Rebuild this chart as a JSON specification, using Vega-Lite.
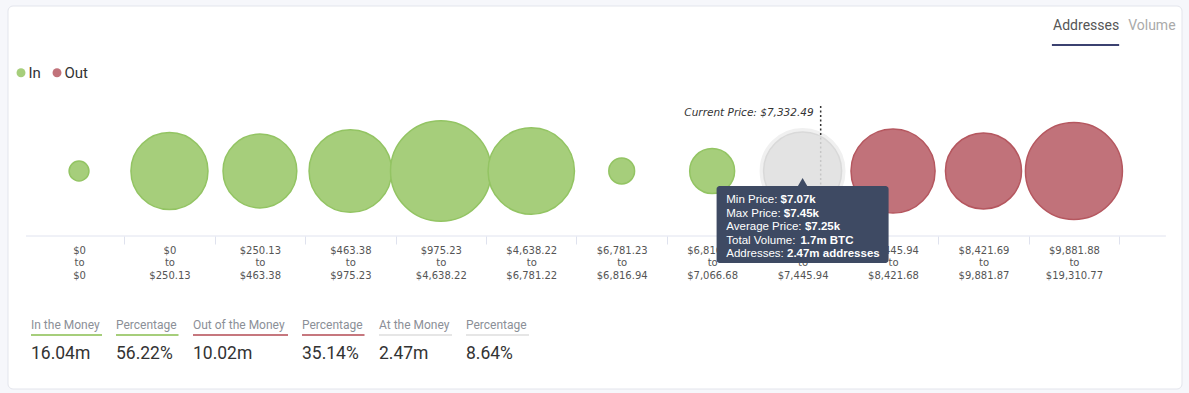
{
  "$schema": "https://vega.github.io/schema/vega-lite/v6.json",
  "background": "#f6f7fb",
  "padding": {"left": 7, "top": 5, "right": 8, "bottom": 5},
  "config": {"view": {"stroke": null}},
  "datasets": {
    "bins": [
      {"range": "$0 to $0", "status": "In", "addresses": 0.16},
      {"range": "$0 to $250.13", "status": "In", "addresses": 2.41},
      {"range": "$250.13 to $463.38", "status": "In", "addresses": 2.21},
      {"range": "$463.38 to $975.23", "status": "In", "addresses": 2.77},
      {"range": "$975.23 to $4,638.22", "status": "In", "addresses": 4.11},
      {"range": "$4,638.22 to $6,781.22", "status": "In", "addresses": 3.03},
      {"range": "$6,781.23 to $6,816.94", "status": "In", "addresses": 0.27},
      {"range": "$6,816.95 to $7,066.68", "status": "In", "addresses": 0.82},
      {"range": "$7,066.69 to $7,445.94", "status": "At", "addresses": 2.47},
      {"range": "$7,445.94 to $8,421.68", "status": "Out", "addresses": 2.87},
      {"range": "$8,421.69 to $9,881.87", "status": "Out", "addresses": 2.35},
      {"range": "$9,881.88 to $19,310.77", "status": "Out", "addresses": 3.82}
    ],
    "current": [{"range": "$7,066.69 to $7,445.94", "label": "Current Price: $7,332.49"}],
    "tabs": [{"tab": "Addresses"}, {"tab": "Volume"}],
    "tip": [
      {"k": "Min Price:", "v": "$7.07k"},
      {"k": "Max Price:", "v": "$7.45k"},
      {"k": "Average Price:", "v": "$7.25k"},
      {"k": "Total Volume:", "v": "1.7m BTC"},
      {"k": "Addresses:", "v": "2.47m addresses"}
    ],
    "stats": [
      {"key": "inCount", "label": "In the Money", "value": "16.04m"},
      {"key": "inPct", "label": "Percentage", "value": "56.22%"},
      {"key": "outCount", "label": "Out of the Money", "value": "10.02m"},
      {"key": "outPct", "label": "Percentage", "value": "35.14%"},
      {"key": "atCount", "label": "At the Money", "value": "2.47m"},
      {"key": "atPct", "label": "Percentage", "value": "8.64%"}
    ]
  },
  "bounds": "flush",
  "spacing": 0,
  "vconcat": [
    {
      "width": 1174,
      "height": 1,
      "data": {"values": [{"panel": "card"}]},
      "mark": {"type": "rect", "fill": "#ffffff", "stroke": "#e3e5ec", "strokeWidth": 1, "cornerRadius": 5},
      "encoding": {
        "y": {"datum": 1, "type": "quantitative", "scale": {"domain": [0, 1], "nice": false, "zero": false}, "axis": null},
        "y2": {"datum": -382}
      }
    },
    {
      "width": 1174,
      "height": 310,
      "layer": [
        {
          "data": {"name": "bins"},
          "transform": [{"filter": "datum.status === 'At'"}],
          "mark": {"type": "point", "filled": true, "shape": "circle", "color": "#f0f0f0", "stroke": "#f0f0f0", "strokeWidth": 8, "opacity": 1},
          "encoding": {
            "x": {"field": "range", "type": "nominal", "sort": null,
              "scale": {"domain": ["$0 to $0", "$0 to $250.13", "$250.13 to $463.38", "$463.38 to $975.23", "$975.23 to $4,638.22", "$4,638.22 to $6,781.22", "$6,781.23 to $6,816.94", "$6,816.95 to $7,066.68", "$7,066.69 to $7,445.94", "$7,445.94 to $8,421.68", "$8,421.69 to $9,881.87", "$9,881.88 to $19,310.77"], "paddingInner": 0, "paddingOuter": 0.49, "align": 0.291},
              "axis": {"title": null, "orient": "bottom", "offset": -81, "domain": false, "ticks": true, "tickSize": 8, "tickColor": "#dfe2ee", "tickWidth": 1, "tickOffset": 45.2, "labelOffset": -45.2, "labelAngle": 0, "labelOverlap": false, "labelBound": false, "labelFlush": false, "labelPadding": 1, "labelFont": "DejaVu Sans", "labelFontSize": 10, "labelColor": "#555555", "labelLineHeight": 12.5, "labelBaseline": "top", "labelExpr": "split(datum.label, ' ')", "grid": false}},
            "y": {"datum": 65, "type": "quantitative", "scale": {"domain": [-81, 229], "nice": false, "zero": false}, "axis": null},
            "size": {"field": "addresses", "type": "quantitative", "scale": {"domain": [0, 5], "range": [0, 12316]}, "legend": null}
          }
        },
        {
          "data": {"name": "current"},
          "mark": {"type": "rule", "color": "#333333", "strokeWidth": 1.5, "strokeDash": [2, 2.5]},
          "encoding": {
            "x": {"field": "range", "type": "nominal", "bandPosition": 0.7},
            "y": {"datum": 130, "type": "quantitative", "axis": null},
            "y2": {"datum": 0}
          }
        },
        {
          "data": {"values": [{"from": "$0 to $0", "to": "$9,881.88 to $19,310.77"}]},
          "mark": {"type": "rule", "color": "#e0e3ef", "strokeWidth": 1},
          "encoding": {
            "x": {"field": "from", "type": "nominal", "bandPosition": -0.086},
            "x2": {"field": "to", "bandPosition": 1.517},
            "y": {"datum": 0, "type": "quantitative", "axis": null}
          }
        },
        {
          "data": {"name": "bins"},
          "mark": {"type": "point", "filled": true, "shape": "circle", "strokeWidth": 1.5, "opacity": 1},
          "encoding": {
            "x": {"field": "range", "type": "nominal", "sort": null},
            "y": {"datum": 65, "type": "quantitative", "axis": null},
            "size": {"field": "addresses", "type": "quantitative", "legend": null},
            "color": {"field": "status", "type": "nominal",
              "scale": {"domain": ["In", "Out", "At"], "range": ["#a6ce7b", "#c1727a", "#e1e1e1"]},
              "legend": {"values": ["In", "Out"], "orient": "none", "legendX": 5.5, "legendY": 59, "direction": "horizontal", "title": null, "symbolType": "circle", "symbolSize": 80, "symbolStrokeWidth": 0, "symbolOpacity": 1, "labelFont": "Roboto", "labelFontSize": 15, "labelColor": "#333333", "labelOffset": 0, "columnPadding": 8, "padding": 0}},
            "stroke": {"field": "status", "type": "nominal",
              "scale": {"domain": ["In", "Out", "At"], "range": ["#93c463", "#b5575f", "#d9d9d9"]}, "legend": null},
            "fillOpacity": {"condition": {"test": "datum.status === 'At'", "value": 0.85}, "value": 1}
          }
        },
        {
          "data": {"name": "current"},
          "mark": {"type": "text", "align": "right", "baseline": "middle", "dx": -7, "font": "DejaVu Sans", "fontSize": 10.5, "fontStyle": "italic", "color": "#333333"},
          "encoding": {
            "x": {"field": "range", "type": "nominal", "bandPosition": 0.7},
            "y": {"datum": 123, "type": "quantitative", "axis": null},
            "text": {"field": "label"}
          }
        },
        {
          "data": {"name": "tabs"},
          "transform": [{"filter": "datum.tab === 'Addresses'"}],
          "layer": [
            {
              "mark": {"type": "text", "align": "right", "baseline": "middle", "font": "Roboto", "fontSize": 14, "color": "#555555"},
              "encoding": {
                "x": {"datum": "$9,881.88 to $19,310.77", "type": "nominal", "bandPosition": 1},
                "y": {"datum": 210, "type": "quantitative", "axis": null},
                "text": {"field": "tab"}
              }
            },
            {
              "mark": {"type": "rule", "color": "#3b4170", "strokeWidth": 2},
              "encoding": {
                "x": {"datum": "$9,881.88 to $19,310.77", "type": "nominal", "bandPosition": 0.2565},
                "x2": {"datum": "$9,881.88 to $19,310.77", "bandPosition": 1},
                "y": {"datum": 191, "type": "quantitative", "axis": null}
              }
            }
          ]
        },
        {
          "data": {"name": "tabs"},
          "transform": [{"filter": "datum.tab === 'Volume'"}],
          "mark": {"type": "text", "align": "left", "baseline": "middle", "dx": 9, "font": "Roboto", "fontSize": 14, "color": "#aaaaaa"},
          "encoding": {
            "x": {"datum": "$9,881.88 to $19,310.77", "type": "nominal", "bandPosition": 1},
            "y": {"datum": 210, "type": "quantitative", "axis": null},
            "text": {"field": "tab"}
          }
        },
        {
          "data": {"name": "bins"},
          "transform": [{"filter": "datum.status === 'At'"}],
          "layer": [
            {
              "mark": {"type": "bar", "width": 172, "color": "#3e4a63", "cornerRadius": 3},
              "encoding": {
                "x": {"field": "range", "type": "nominal"},
                "y": {"datum": 50, "type": "quantitative", "axis": null},
                "y2": {"datum": -27}
              }
            },
            {
              "mark": {"type": "point", "shape": "triangle-up", "filled": true, "size": 110, "color": "#3e4a63", "opacity": 1},
              "encoding": {
                "x": {"field": "range", "type": "nominal"},
                "y": {"datum": 53.5, "type": "quantitative", "axis": null}
              }
            }
          ]
        },
        {
          "data": {"name": "tip"},
          "transform": [{"filter": "datum.k === 'Min Price:'"}],
          "encoding": {
            "x": {"datum": "$7,066.69 to $7,445.94", "type": "nominal"},
            "y": {"datum": 36, "type": "quantitative", "axis": null}
          },
          "layer": [
            {"mark": {"type": "text", "align": "left", "baseline": "middle", "dx": -76.3, "font": "Liberation Sans", "fontSize": 11.5, "color": "#ffffff"}, "encoding": {"text": {"field": "k"}}},
            {"mark": {"type": "text", "align": "left", "baseline": "middle", "dx": -22, "font": "Liberation Sans", "fontSize": 11.5, "fontWeight": "bold", "color": "#ffffff"}, "encoding": {"text": {"field": "v"}}}
          ]
        },
        {
          "data": {"name": "tip"},
          "transform": [{"filter": "datum.k === 'Max Price:'"}],
          "encoding": {
            "x": {"datum": "$7,066.69 to $7,445.94", "type": "nominal"},
            "y": {"datum": 22.5, "type": "quantitative", "axis": null}
          },
          "layer": [
            {"mark": {"type": "text", "align": "left", "baseline": "middle", "dx": -76.3, "font": "Liberation Sans", "fontSize": 11.5, "color": "#ffffff"}, "encoding": {"text": {"field": "k"}}},
            {"mark": {"type": "text", "align": "left", "baseline": "middle", "dx": -18.8, "font": "Liberation Sans", "fontSize": 11.5, "fontWeight": "bold", "color": "#ffffff"}, "encoding": {"text": {"field": "v"}}}
          ]
        },
        {
          "data": {"name": "tip"},
          "transform": [{"filter": "datum.k === 'Average Price:'"}],
          "encoding": {
            "x": {"datum": "$7,066.69 to $7,445.94", "type": "nominal"},
            "y": {"datum": 9, "type": "quantitative", "axis": null}
          },
          "layer": [
            {"mark": {"type": "text", "align": "left", "baseline": "middle", "dx": -76.3, "font": "Liberation Sans", "fontSize": 11.5, "color": "#ffffff"}, "encoding": {"text": {"field": "k"}}},
            {"mark": {"type": "text", "align": "left", "baseline": "middle", "dx": 2.3, "font": "Liberation Sans", "fontSize": 11.5, "fontWeight": "bold", "color": "#ffffff"}, "encoding": {"text": {"field": "v"}}}
          ]
        },
        {
          "data": {"name": "tip"},
          "transform": [{"filter": "datum.k === 'Total Volume:'"}],
          "encoding": {
            "x": {"datum": "$7,066.69 to $7,445.94", "type": "nominal"},
            "y": {"datum": -4.5, "type": "quantitative", "axis": null}
          },
          "layer": [
            {"mark": {"type": "text", "align": "left", "baseline": "middle", "dx": -76.3, "font": "Liberation Sans", "fontSize": 11.5, "color": "#ffffff"}, "encoding": {"text": {"field": "k"}}},
            {"mark": {"type": "text", "align": "left", "baseline": "middle", "dx": -2.2, "font": "Liberation Sans", "fontSize": 11.5, "fontWeight": "bold", "color": "#ffffff"}, "encoding": {"text": {"field": "v"}}}
          ]
        },
        {
          "data": {"name": "tip"},
          "transform": [{"filter": "datum.k === 'Addresses:'"}],
          "encoding": {
            "x": {"datum": "$7,066.69 to $7,445.94", "type": "nominal"},
            "y": {"datum": -18, "type": "quantitative", "axis": null}
          },
          "layer": [
            {"mark": {"type": "text", "align": "left", "baseline": "middle", "dx": -76.3, "font": "Liberation Sans", "fontSize": 11.5, "color": "#ffffff"}, "encoding": {"text": {"field": "k"}}},
            {"mark": {"type": "text", "align": "left", "baseline": "middle", "dx": -15.6, "font": "Liberation Sans", "fontSize": 11.5, "fontWeight": "bold", "color": "#ffffff"}, "encoding": {"text": {"field": "v"}}}
          ]
        }
      ]
    },
    {
      "bounds": "flush",
      "spacing": 14,
      "hconcat": [
        {"width": 9, "height": 40, "data": {"values": []}, "mark": "point", "encoding": {}},
        {
          "width": 71, "height": 40, "data": {"name": "stats"},
          "transform": [{"filter": "datum.key === 'inCount'"}],
          "encoding": {"x": {"datum": 0, "type": "quantitative", "scale": {"domain": [0, 1], "nice": false}, "axis": null}},
          "layer": [
            {"mark": {"type": "text", "align": "left", "baseline": "middle", "font": "Roboto", "fontSize": 12, "color": "#8b8f97"}, "encoding": {"y": {"datum": 8, "type": "quantitative", "scale": {"domain": [40, 0], "nice": false}, "axis": null}, "text": {"field": "label"}}},
            {"mark": {"type": "rule", "color": "#a6ce7b", "strokeWidth": 2}, "encoding": {"x2": {"datum": 1}, "y": {"datum": 18, "type": "quantitative", "axis": null}}},
            {"mark": {"type": "text", "align": "left", "baseline": "middle", "font": "Roboto", "fontSize": 17.5, "color": "#333333"}, "encoding": {"y": {"datum": 37, "type": "quantitative", "axis": null}, "text": {"field": "value"}}}
          ]
        },
        {
          "width": 62.5, "height": 40, "data": {"name": "stats"},
          "transform": [{"filter": "datum.key === 'inPct'"}],
          "encoding": {"x": {"datum": 0, "type": "quantitative", "scale": {"domain": [0, 1], "nice": false}, "axis": null}},
          "layer": [
            {"mark": {"type": "text", "align": "left", "baseline": "middle", "font": "Roboto", "fontSize": 12, "color": "#8b8f97"}, "encoding": {"y": {"datum": 8, "type": "quantitative", "scale": {"domain": [40, 0], "nice": false}, "axis": null}, "text": {"field": "label"}}},
            {"mark": {"type": "rule", "color": "#a6ce7b", "strokeWidth": 2}, "encoding": {"x2": {"datum": 1}, "y": {"datum": 18, "type": "quantitative", "axis": null}}},
            {"mark": {"type": "text", "align": "left", "baseline": "middle", "font": "Roboto", "fontSize": 17.5, "color": "#333333"}, "encoding": {"y": {"datum": 37, "type": "quantitative", "axis": null}, "text": {"field": "value"}}}
          ]
        },
        {
          "width": 95, "height": 40, "data": {"name": "stats"},
          "transform": [{"filter": "datum.key === 'outCount'"}],
          "encoding": {"x": {"datum": 0, "type": "quantitative", "scale": {"domain": [0, 1], "nice": false}, "axis": null}},
          "layer": [
            {"mark": {"type": "text", "align": "left", "baseline": "middle", "font": "Roboto", "fontSize": 12, "color": "#8b8f97"}, "encoding": {"y": {"datum": 8, "type": "quantitative", "scale": {"domain": [40, 0], "nice": false}, "axis": null}, "text": {"field": "label"}}},
            {"mark": {"type": "rule", "color": "#c6777e", "strokeWidth": 2}, "encoding": {"x2": {"datum": 1}, "y": {"datum": 18, "type": "quantitative", "axis": null}}},
            {"mark": {"type": "text", "align": "left", "baseline": "middle", "font": "Roboto", "fontSize": 17.5, "color": "#333333"}, "encoding": {"y": {"datum": 37, "type": "quantitative", "axis": null}, "text": {"field": "value"}}}
          ]
        },
        {
          "width": 62.5, "height": 40, "data": {"name": "stats"},
          "transform": [{"filter": "datum.key === 'outPct'"}],
          "encoding": {"x": {"datum": 0, "type": "quantitative", "scale": {"domain": [0, 1], "nice": false}, "axis": null}},
          "layer": [
            {"mark": {"type": "text", "align": "left", "baseline": "middle", "font": "Roboto", "fontSize": 12, "color": "#8b8f97"}, "encoding": {"y": {"datum": 8, "type": "quantitative", "scale": {"domain": [40, 0], "nice": false}, "axis": null}, "text": {"field": "label"}}},
            {"mark": {"type": "rule", "color": "#c6777e", "strokeWidth": 2}, "encoding": {"x2": {"datum": 1}, "y": {"datum": 18, "type": "quantitative", "axis": null}}},
            {"mark": {"type": "text", "align": "left", "baseline": "middle", "font": "Roboto", "fontSize": 17.5, "color": "#333333"}, "encoding": {"y": {"datum": 37, "type": "quantitative", "axis": null}, "text": {"field": "value"}}}
          ]
        },
        {
          "width": 73, "height": 40, "data": {"name": "stats"},
          "transform": [{"filter": "datum.key === 'atCount'"}],
          "encoding": {"x": {"datum": 0, "type": "quantitative", "scale": {"domain": [0, 1], "nice": false}, "axis": null}},
          "layer": [
            {"mark": {"type": "text", "align": "left", "baseline": "middle", "font": "Roboto", "fontSize": 12, "color": "#8b8f97"}, "encoding": {"y": {"datum": 8, "type": "quantitative", "scale": {"domain": [40, 0], "nice": false}, "axis": null}, "text": {"field": "label"}}},
            {"mark": {"type": "rule", "color": "#e6e6e6", "strokeWidth": 2}, "encoding": {"x2": {"datum": 1}, "y": {"datum": 18, "type": "quantitative", "axis": null}}},
            {"mark": {"type": "text", "align": "left", "baseline": "middle", "font": "Roboto", "fontSize": 17.5, "color": "#333333"}, "encoding": {"y": {"datum": 37, "type": "quantitative", "axis": null}, "text": {"field": "value"}}}
          ]
        },
        {
          "width": 63, "height": 40, "data": {"name": "stats"},
          "transform": [{"filter": "datum.key === 'atPct'"}],
          "encoding": {"x": {"datum": 0, "type": "quantitative", "scale": {"domain": [0, 1], "nice": false}, "axis": null}},
          "layer": [
            {"mark": {"type": "text", "align": "left", "baseline": "middle", "font": "Roboto", "fontSize": 12, "color": "#8b8f97"}, "encoding": {"y": {"datum": 8, "type": "quantitative", "scale": {"domain": [40, 0], "nice": false}, "axis": null}, "text": {"field": "label"}}},
            {"mark": {"type": "rule", "color": "#e6e6e6", "strokeWidth": 2}, "encoding": {"x2": {"datum": 1}, "y": {"datum": 18, "type": "quantitative", "axis": null}}},
            {"mark": {"type": "text", "align": "left", "baseline": "middle", "font": "Roboto", "fontSize": 17.5, "color": "#333333"}, "encoding": {"y": {"datum": 37, "type": "quantitative", "axis": null}, "text": {"field": "value"}}}
          ]
        }
      ]
    }
  ]
}
